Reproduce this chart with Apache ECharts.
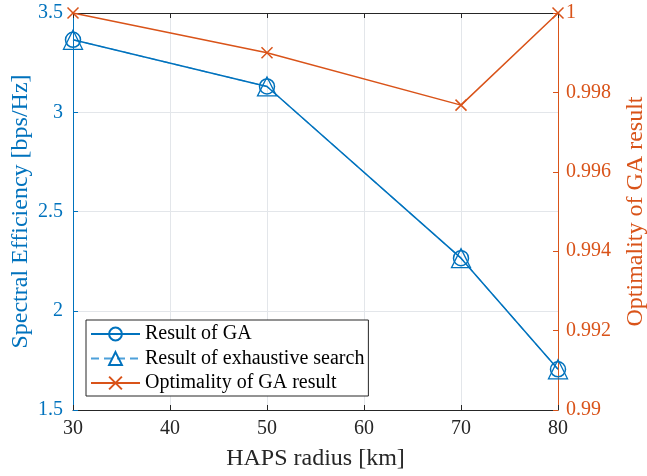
<!DOCTYPE html>
<html>
<head>
<meta charset="utf-8">
<script src="https://cdn.jsdelivr.net/npm/echarts@6/dist/echarts.min.js"></script>
<style>html,body{margin:0;padding:0;background:#fff}#c{width:647px;height:476px}</style>
</head>
<body>
<div id="c"></div>
<script>
const radius = [30, 50, 70, 80];
const gaResult = [3.365, 3.13, 2.265, 1.705];
const exhaustiveResult = [3.365, 3.13, 2.265, 1.705];
const optimality = [1.0, 0.999, 0.99768, 1.0];
const xTicks = [30, 40, 50, 60, 70, 80];

const BLUE = '#0072BD', BLUE2 = '#4DA0DA', ORANGE = '#D95319';
const FONT = 'Liberation Serif';
const pairs = (xs, ys) => xs.map((x, i) => [x, ys[i]]);

const chart = echarts.init(document.getElementById('c'), null, {renderer: 'canvas'});
chart.setOption({
  animation: false,
  backgroundColor: '#fff',
  textStyle: {fontFamily: FONT},
  grid: {left: 73, right: 89, top: 13, bottom: 66, containLabel: false, outerBoundsMode: 'none'},
  legend: {
    orient: 'vertical', left: 86, top: 320,
    backgroundColor: '#fff', borderColor: '#262626', borderWidth: 1,
    padding: [4, 4, 3, 4], itemGap: 4.5, itemWidth: 49, itemHeight: 16,
    textStyle: {fontFamily: FONT, fontSize: 20, color: '#000'},
    data: ['Result of GA', 'Result of exhaustive search', 'Optimality of GA result']
  },
  xAxis: [{
    type: 'value', min: 30, max: 80, interval: 10,
    name: 'HAPS radius [km]', nameLocation: 'middle', nameGap: 37, nameMoveOverlap: false,
    nameTextStyle: {fontFamily: FONT, fontSize: 24, color: '#262626'},
    axisLine: {show: true, onZero: false, lineStyle: {color: '#262626', width: 1}},
    axisTick: {inside: true, length: 5, lineStyle: {color: '#262626'}},
    axisLabel: {fontFamily: FONT, fontSize: 20, color: '#262626', margin: 9,
      formatter: v => xTicks.includes(v) ? String(v) : ''},
    splitLine: {show: true, lineStyle: {color: '#e3e6ea', width: 1}}
  }, {
    type: 'value', min: 30, max: 80, interval: 10, position: 'top',
    axisLine: {show: true, onZero: false, lineStyle: {color: '#262626', width: 1}},
    axisTick: {inside: true, length: 5, lineStyle: {color: '#262626'}},
    axisLabel: {show: false}, splitLine: {show: false}
  }],
  yAxis: [{
    type: 'value', min: 1.5, max: 3.5, interval: 0.5, position: 'left',
    name: 'Spectral Efficiency [bps/Hz]', nameLocation: 'middle', nameGap: 40, nameMoveOverlap: false,
    nameTextStyle: {fontFamily: FONT, fontSize: 24, color: BLUE},
    axisLine: {show: true, onZero: false, lineStyle: {color: BLUE, width: 1}},
    axisTick: {show: true, inside: true, length: 5, lineStyle: {color: BLUE}},
    axisLabel: {fontFamily: FONT, fontSize: 20, color: BLUE, margin: 10,
      formatter: v => String(+v.toFixed(1))},
    splitLine: {show: true, lineStyle: {color: '#e3e6ea', width: 1}}
  }, {
    type: 'value', min: 0.99, max: 1, interval: 0.002, position: 'right',
    name: 'Optimality of GA result', nameLocation: 'middle', nameGap: 66, nameMoveOverlap: false,
    nameRotate: 90,
    nameTextStyle: {fontFamily: FONT, fontSize: 24, color: ORANGE},
    axisLine: {show: true, onZero: false, lineStyle: {color: ORANGE, width: 1}},
    axisTick: {show: true, inside: true, length: 5, lineStyle: {color: ORANGE}},
    axisLabel: {fontFamily: FONT, fontSize: 20, color: ORANGE, margin: 8,
      formatter: v => String(+v.toFixed(3))},
    splitLine: {show: false}
  }],
  series: [{
    name: 'Result of GA', type: 'line', yAxisIndex: 0,
    data: pairs(radius, gaResult),
    symbol: 'circle', symbolSize: 15, showAllSymbol: true,
    lineStyle: {color: BLUE, width: 1.5},
    itemStyle: {color: 'rgba(0,0,0,0)', borderColor: BLUE, borderWidth: 1.5},
    z: 3
  }, {
    name: 'Result of exhaustive search', type: 'line', yAxisIndex: 0,
    data: pairs(radius, exhaustiveResult),
    symbol: 'triangle', symbolSize: 19,
    lineStyle: {color: BLUE2, width: 1.2, type: [8, 5]},
    itemStyle: {color: 'rgba(0,0,0,0)', borderColor: BLUE, borderWidth: 1.3},
    z: 2
  }, {
    name: 'Optimality of GA result', type: 'line', yAxisIndex: 1,
    data: pairs(radius, optimality),
    symbol: 'path://M0,0L10,10M10,0L0,10', symbolSize: 11,
    lineStyle: {color: ORANGE, width: 1.5},
    itemStyle: {color: 'rgba(0,0,0,0)', borderColor: ORANGE, borderWidth: 1.5},
    z: 4
  }]
});
</script>
</body>
</html>
